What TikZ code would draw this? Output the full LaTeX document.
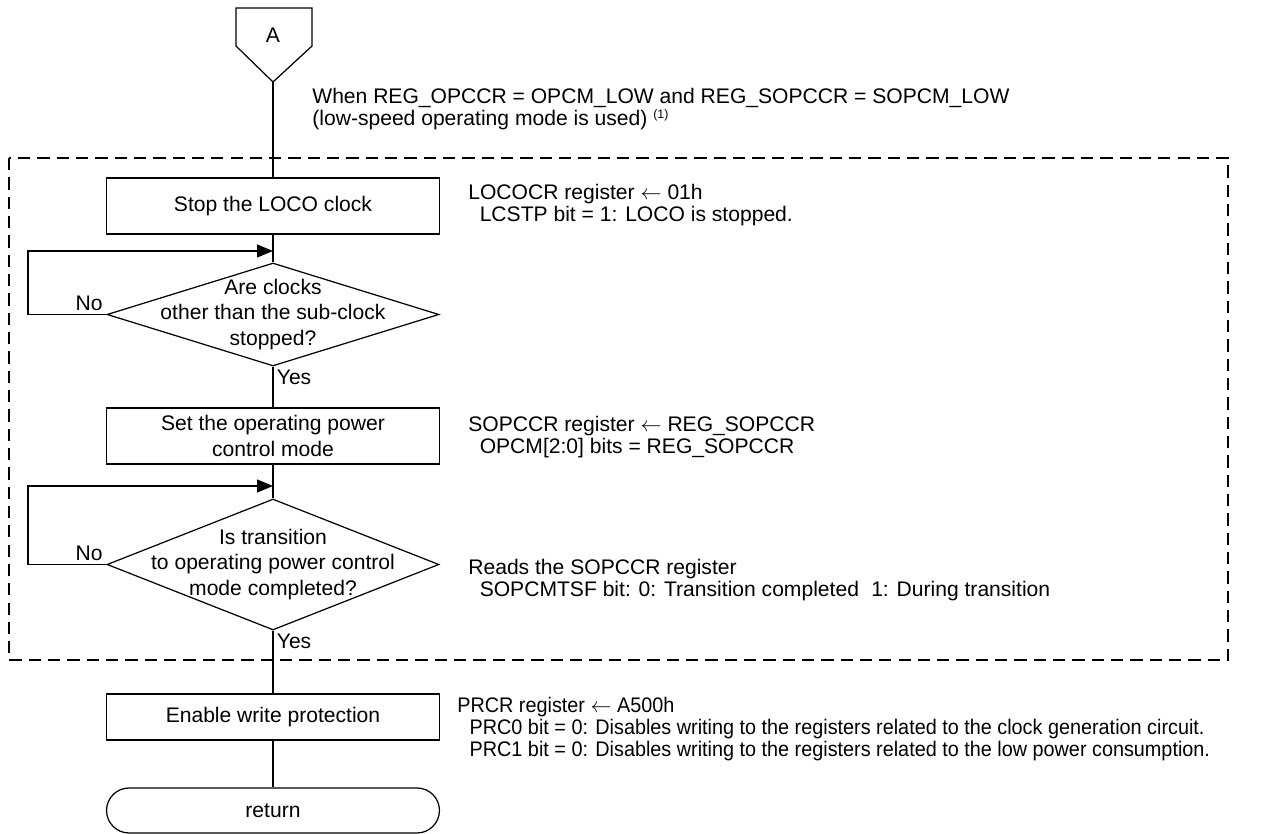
\documentclass[tikz,border=0pt]{standalone}
\usepackage{fontspec}
\setmainfont{Liberation Sans}
\newfontfamily\narrowfont[FakeStretch=0.94]{Liberation Sans}
\usetikzlibrary{shapes.geometric,shapes.misc,arrows.meta}
\begin{document}
\begin{tikzpicture}[x=0.02cm, y=-0.02cm,
	every node/.style={font=\fontsize{12}{14.5}\selectfont},
	procbox/.style={draw=black, line width=0.7pt, rectangle, minimum width=6.66cm, minimum height=1.12cm, inner sep=0pt, align=center},
	decide/.style={draw=black, line width=0.7pt, diamond, inner sep=0pt, minimum width=6.64cm},
	note/.style={anchor=north west, inner sep=0pt, align=left, font=\fontsize{12}{12.4}\selectfont},
	flow/.style={draw=black, line width=0.7pt},
	loopback/.style={draw=black, line width=0.7pt, -{Triangle[length=0.32cm, width=0.26cm]}},
	dashedframe/.style={draw=black, line width=0.7pt, dash pattern=on 7pt off 4pt}]
		\useasboundingbox (0,0) rectangle (1279,834);
		% off-page connector
		\draw[flow] (236,8) -- (312,8) -- (312,46) -- (273,82) -- (236,46) -- cycle;
		\node (conlabel) at (273,35) {A};
		\coordinate (conA) at (273,82);
		\node[note] (modetext) at (312,88) {When REG\_OPCCR = OPCM\_LOW and REG\_SOPCCR = SOPCM\_LOW\\(low-speed operating mode is used) \raisebox{0.6ex}{\fontsize{7}{7}\selectfont (1)}};
		\draw[dashedframe] (9,158) rectangle (1228,660);
		% main flow
		\node[procbox] (stop) at (273,206) {Stop the LOCO clock};
		\node[decide, minimum height=2.06cm] (clk) at (273,314.5) {};
		\node[align=center, inner sep=0pt] (clktext) at (clk.center) {Are clocks\\other than the sub-clock\\stopped?};
		\node[procbox] (setmode) at (273,436) {Set the operating power\\control mode};
		\node[decide, minimum height=2.62cm] (trans) at (273,564.5) {};
		\node[align=center, inner sep=0pt] (transtext) at (trans.center) {Is transition\\to operating power control\\mode completed?};
		\node[procbox, minimum height=0.92cm] (protect) at (273,717) {Enable write protection};
		\node[draw=black, line width=0.7pt, rounded rectangle, minimum width=6.66cm, minimum height=0.9cm, inner sep=0pt] (ret) at (273,810.5) {return};
		\draw[flow] (conA) -- (stop.north);
		\draw[flow] (stop.south) -- (clk.north);
		\draw[flow] (clk.south) -- (setmode.north);
		\draw[flow] (setmode.south) -- (trans.north);
		\draw[flow] (trans.south) -- (protect.north);
		\draw[flow] (protect.south) -- (ret.north);
		% wait loops
		\coordinate (j1) at (273,251);
		\coordinate (k1) at (28,251);
		\draw[loopback] (clk.west) -| (k1) -- (j1);
		\coordinate (j2) at (273,486);
		\coordinate (k2) at (28,486);
		\draw[loopback] (trans.west) -| (k2) -- (j2);
		\node[anchor=south east, inner sep=2pt] (no1) at (clk.west) {No};
		\node[anchor=north west, inner sep=2pt] (yes1) at (clk.south) {Yes};
		\node[anchor=south east, inner sep=2pt] (no2) at (trans.west) {No};
		\node[anchor=north west, inner sep=2pt] (yes2) at (trans.south) {Yes};
		% register notes
		\node[note] (noteloco) at (468,184) {LOCOCR register $\leftarrow$ 01h\\\hspace{6.5pt}LCSTP bit = 1: LOCO is stopped.};
		\node[note] (notesop) at (468,416) {SOPCCR register $\leftarrow$ REG\_SOPCCR\\\hspace{6.5pt}OPCM[2:0] bits = REG\_SOPCCR};
		\node[note] (notetsf) at (468,559) {Reads the SOPCCR register\\\hspace{6.5pt}SOPCMTSF bit: 0: Transition completed\hspace{7pt}1: During transition};
		\node[note, font=\narrowfont\fontsize{12}{12.4}\selectfont] (noteprc) at (457,697) {PRCR register $\leftarrow$ A500h\\\hspace{7pt}PRC0 bit = 0: Disables writing to the registers related to the clock generation circuit.\\\hspace{7pt}PRC1 bit = 0: Disables writing to the registers related to the low power consumption.};
	\end{tikzpicture}
\end{document}
